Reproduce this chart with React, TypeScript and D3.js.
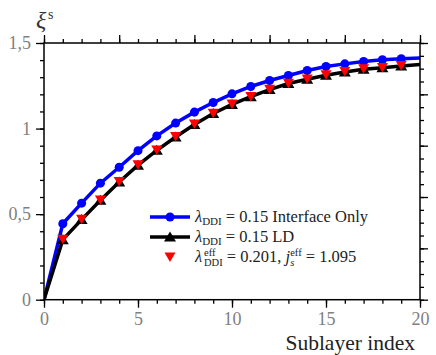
import React, { useEffect, useRef } from 'react';
import * as d3 from 'd3';

const W = 436, H = 355;
const margin = { top: 43, right: 16, bottom: 55.3, left: 44 };

// sublayer index 0..20
const sublayers = d3.range(0, 21);
// lambda_DDI = 0.15, interface only
const interfaceOnly = [0, 0.444, 0.564, 0.681, 0.774, 0.871, 0.957, 1.032, 1.096, 1.152, 1.203,
  1.246, 1.281, 1.310, 1.339, 1.363, 1.378, 1.392, 1.402, 1.408, 1.412];
// lambda_DDI = 0.15, LD
const ld = [0, 0.351, 0.468, 0.581, 0.688, 0.786, 0.873, 0.951, 1.024, 1.088, 1.141,
  1.186, 1.228, 1.263, 1.288, 1.312, 1.331, 1.347, 1.356, 1.366, 1.375];
// effective lambda = 0.201, j_s = 1.095
const effective = [0, 0.353, 0.470, 0.583, 0.690, 0.788, 0.875, 0.953, 1.026, 1.090, 1.143,
  1.187, 1.230, 1.265, 1.289, 1.314, 1.333, 1.349, 1.357, 1.368, 1.376];

const xMajor = [0, 5, 10, 15, 20];
const yMajor = [0, 0.5, 1, 1.5];
const topMajor = [0, 4, 8, 12, 16, 20];
const rightMajor = [0, 0.3, 0.6, 0.9, 1.2, 1.5];

const gray = '#808080';
const font = "'Liberation Serif', 'Times New Roman', Times, 'Noto Serif', 'DejaVu Serif', serif";

export default function App() {
  const axes = useRef<SVGGElement>(null);

  const x = d3.scaleLinear().domain([0, 20]).range([margin.left, W - margin.right]);
  const y = d3.scaleLinear().domain([0, 1.5]).range([H - margin.bottom, margin.top]);

  useEffect(() => {
    const g = d3.select(axes.current);
    g.selectAll('*').remove();
    const bottom = H - margin.bottom, left = margin.left, right = W - margin.right, top = margin.top;
    const fmt = (d: any) => String(d).replace('.', ',');

    const style = (sel: any) => {
      sel.select('.domain').remove();
      sel.attr('font-family', null).attr('font-size', null);
      sel.selectAll('line').attr('stroke', '#000').attr('stroke-width', 1.3);
      sel.selectAll('text').attr('fill', gray).style('font-family', font).style('font-size', '18px');
    };

    // bottom
    g.append('g').attr('transform', `translate(0,${bottom})`)
      .call(d3.axisBottom(x).tickValues(d3.range(0, 21)).tickSize(4).tickFormat(() => '')).call(style);
    g.append('g').attr('transform', `translate(0,${bottom})`)
      .call(d3.axisBottom(x).tickValues(xMajor).tickSize(8).tickPadding(5).tickFormat(fmt)).call(style);
    // left
    g.append('g').attr('transform', `translate(${left},0)`)
      .call(d3.axisLeft(y).tickValues(d3.range(0, 16).map(i => i / 10)).tickSize(4).tickFormat(() => '')).call(style);
    g.append('g').attr('transform', `translate(${left},0)`)
      .call(d3.axisLeft(y).tickValues(yMajor).tickSize(8).tickPadding(5).tickFormat(fmt)).call(style);
    // top
    g.append('g').attr('transform', `translate(0,${top})`)
      .call(d3.axisTop(x).tickValues(d3.range(0, 21)).tickSize(4).tickFormat(() => '')).call(style);
    g.append('g').attr('transform', `translate(0,${top})`)
      .call(d3.axisTop(x).tickValues(topMajor).tickSize(8).tickFormat(() => '')).call(style);
    // right
    g.append('g').attr('transform', `translate(${right},0)`)
      .call(d3.axisRight(y).tickValues(d3.range(0, 21).map(i => i * 0.075)).tickSize(4).tickFormat(() => '')).call(style);
    g.append('g').attr('transform', `translate(${right},0)`)
      .call(d3.axisRight(y).tickValues(rightMajor).tickSize(8).tickFormat(() => '')).call(style);
  }, []);

  const line = d3.line<number>().x((_, i) => x(sublayers[i])).y(d => y(d));
  const circle = d3.symbol().type(d3.symbolCircle).size(64)();
  const triUp = 'M0,-5.5L6,4.5L-6,4.5Z';
  const triDown = 'M0,5L-5.5,-4.5L5.5,-4.5Z';
  const inner = (i: number) => i > 0 && i < 20;

  const lx = 150, rows = [217, 237, 257];
  const tx = 195;

  return (
    <svg width={W} height={H} style={{ position: 'absolute', left: 0, top: 0, background: '#fff' }}>
      <defs>
        <clipPath id="plot">
          <rect x={margin.left} y={margin.top} width={W - margin.left - margin.right} height={H - margin.top - margin.bottom} />
        </clipPath>
      </defs>
      <g clipPath="url(#plot)">
        <path d={line(interfaceOnly) || ''} fill="none" stroke="#0000ff" strokeWidth={3.5} />
        {interfaceOnly.map((d, i) => inner(i) &&
          <path key={'b' + i} d={circle || ''} transform={`translate(${x(sublayers[i])},${y(d)})`} fill="#0000ff" />)}
        <path d={line(ld) || ''} fill="none" stroke="#000" strokeWidth={3.5} />
        {ld.map((d, i) => inner(i) &&
          <path key={'k' + i} d={triUp} transform={`translate(${x(sublayers[i])},${y(d)})`} fill="#000" />)}
        {effective.map((d, i) => inner(i) &&
          <path key={'r' + i} d={triDown} transform={`translate(${x(sublayers[i])},${y(d)})`} fill="#ff0000" />)}
      </g>
      <rect x={margin.left} y={margin.top} width={W - margin.left - margin.right} height={H - margin.top - margin.bottom}
        fill="none" stroke="#000" strokeWidth={1.5} />
      <g ref={axes} />

      <g style={{ fontFamily: font }}>
        {/* axis titles */}
        <text x={36} y={28} fontSize={24} fontStyle="italic" fill="#333">ξ</text>
        <text x={48} y={19} fontSize={14} fill="#333">s</text>
        <text x={415} y={350} textAnchor="end" fontSize={21.5} fill="#222">Sublayer index</text>

        {/* legend */}
        <g fontSize={16.5} fill="#222">
          <line x1={lx} x2={lx + 40} y1={rows[0]} y2={rows[0]} stroke="#0000ff" strokeWidth={3.5} />
          <path d={circle || ''} transform={`translate(${lx + 20},${rows[0]})`} fill="#0000ff" />
          <text x={tx} y={rows[0] + 5}><tspan fontStyle="italic">λ</tspan><tspan fontSize={11} dy={3}>DDI</tspan><tspan dy={-3}> = 0.15 Interface Only</tspan></text>

          <line x1={lx} x2={lx + 40} y1={rows[1]} y2={rows[1]} stroke="#000" strokeWidth={3.5} />
          <path d={triUp} transform={`translate(${lx + 20},${rows[1]})`} fill="#000" />
          <text x={tx} y={rows[1] + 5}><tspan fontStyle="italic">λ</tspan><tspan fontSize={11} dy={3}>DDI</tspan><tspan dy={-3}> = 0.15 LD</tspan></text>

          <path d={triDown} transform={`translate(${lx + 20},${rows[2]})`} fill="#ff0000" />
          <text x={tx} y={rows[2] + 5}><tspan fontStyle="italic">λ</tspan><tspan fontSize={10.5} x={tx + 9} dy={-6}>eff</tspan><tspan fontSize={10.5} x={tx + 9} dy={9.5}>DDI</tspan><tspan dy={-3.5}> = 0.201, </tspan><tspan fontStyle="italic">j</tspan><tspan fontSize={10.5} fontStyle="italic" dy={3.5}>s</tspan><tspan fontSize={10.5} dx={-4.1} dy={-10}>eff</tspan><tspan dy={6.5}> = 1.095</tspan></text>
        </g>
      </g>
    </svg>
  );
}
